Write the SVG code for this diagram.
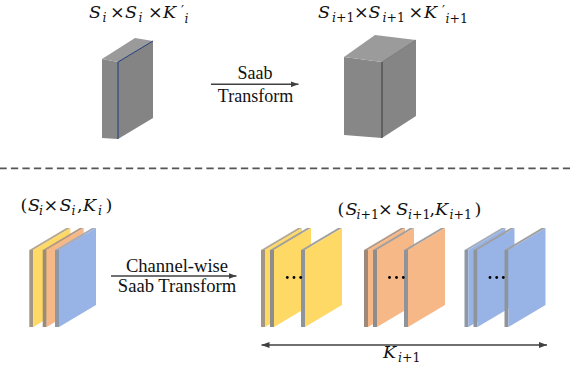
<svg xmlns="http://www.w3.org/2000/svg" width="570" height="368" viewBox="0 0 570 368">
<style>
.m{font-family:"DejaVu Serif","Liberation Serif",serif;font-size:17.5px;fill:#111}
.it{font-style:italic}
.sb{font-size:12.5px}
.pr{font-size:13.5px}
.t{font-family:"Liberation Serif","Times New Roman",serif;font-size:18px;fill:#111;text-anchor:middle}
.conn{stroke:#404040;stroke-width:1.5;fill:none}
.fy{fill:#FFD966}.fo{fill:#F7B887}.fb{fill:#98B3E5}
.sbr{fill:#A39684}.sor{fill:#9F8A7A}.sgr{fill:#8D8D8D}.sbl{fill:#8E97A5}.sgb{fill:#8F949B}
.tbr{fill:#B5A994}.tor{fill:#B39A88}.tgr{fill:#A0A0A0}.tbl{fill:#A3ADBB}
</style>
<defs>
<marker id="ah" markerWidth="8" markerHeight="6" refX="8" refY="3" orient="auto-start-reverse" markerUnits="userSpaceOnUse">
<path d="M0,0 L8,3 L0,6 z" fill="#404040"/>
</marker>
</defs>

<!-- top section -->
<g id="label-in-top">
<text class="m"><tspan class="it" x="89" y="17.5">S</tspan><tspan class="it sb" x="102.5" y="21.5">i</tspan><tspan x="110" y="17.5">×</tspan><tspan class="it" x="125" y="17.5">S</tspan><tspan class="it sb" x="138.5" y="21.5">i</tspan><tspan x="148" y="17.5">×</tspan><tspan class="it" x="163" y="17.5">K</tspan><tspan class="pr" x="181" y="15">′</tspan><tspan class="it sb" x="184.5" y="22.5">i</tspan></text>
</g>
<g id="label-out-top">
<text class="m"><tspan class="it" x="318" y="17.5">S</tspan><tspan class="sb" x="332" y="21.5"><tspan class="it">i</tspan>+1</tspan><tspan x="354" y="17.5">×</tspan><tspan class="it" x="368.5" y="17.5">S</tspan><tspan class="sb" x="382.5" y="21.5"><tspan class="it">i</tspan>+1</tspan><tspan x="408.5" y="17.5">×</tspan><tspan class="it" x="424" y="17.5">K</tspan><tspan class="pr" x="442" y="15">′</tspan><tspan class="sb" x="445.5" y="22.5"><tspan class="it">i</tspan>+1</tspan></text>
</g>

<g id="box-in">
<polygon points="102,59 118,62 118,139 102,138" fill="#878787"/>
<polygon points="118,62 153,41 153,118 118,139" fill="#848484"/>
<polygon points="102,59 135,38 153,41 118,62" fill="#9A9A9A"/>
<polyline points="118,139 118,62 153,41" fill="none" stroke="#1F3B7A" stroke-width="1"/>
</g>

<g id="box-out">
<polygon points="344,57 382,62 382,138 344,135" fill="#878787"/>
<polygon points="382,62 416,40 416,116 382,138" fill="#858585"/>
<polygon points="344,57 375,35 416,40 382,62" fill="#9B9B9B"/>
<line x1="382" y1="62" x2="382" y2="138" stroke="#3A3A3A" stroke-width="1"/>
<line x1="382" y1="62" x2="416" y2="40" stroke="#6E6E6E" stroke-width="0.8"/>
</g>

<g id="label-saab">
<text class="t" x="255" y="79">Saab</text>
<text class="t" x="255.5" y="102">Transform</text>
</g>

<line id="divider" x1="0" y1="168.3" x2="570" y2="168.3" stroke="#555555" stroke-width="1.8" stroke-dasharray="7.3 4.2" stroke-dashoffset="0.6"/>

<!-- bottom section -->
<g id="label-in-bottom">
<text class="m"><tspan x="20.5" y="211">(</tspan><tspan class="it" x="28" y="211">S</tspan><tspan class="it sb" x="39" y="215">i</tspan><tspan x="43.5" y="211">×</tspan><tspan class="it" x="59.5" y="211">S</tspan><tspan class="it sb" x="71.5" y="215">i</tspan><tspan x="77" y="211">,</tspan><tspan class="it" x="83" y="211">K</tspan><tspan class="it sb" x="98" y="215">i</tspan><tspan x="105.5" y="211">)</tspan></text>
</g>

<g id="stack-in">
<g transform="translate(29.3 0)"><polygon class="sbr" points="0,250 4,250 4,327 0,327"/><polygon class="tbr" points="0,250 4,250 41,228 37,228"/><polygon class="fy" points="4,250 41,228 41,305 4,327"/></g>
<g transform="translate(42.7 0)"><polygon class="sor" points="0,250 4,250 4,327 0,327"/><polygon class="tor" points="0,250 4,250 41,228 37,228"/><polygon class="fo" points="4,250 41,228 41,305 4,327"/></g>
<g transform="translate(55 0)"><polygon class="sbl" points="0,250 4,250 4,327 0,327"/><polygon class="tbl" points="0,250 4,250 41,228 37,228"/><polygon class="fb" points="4,250 41,228 41,305 4,327"/></g>
</g>

<g id="label-cw">
<text class="t" x="177" y="271.7" style="font-size:18.6px">Channel-wise</text>
<text class="t" x="177" y="291.7" style="font-size:18.6px">Saab Transform</text>
</g>

<g id="label-out-bottom">
<text class="m"><tspan x="337.5" y="215">(</tspan><tspan class="it" x="345.5" y="215">S</tspan><tspan class="sb" x="356.5" y="219"><tspan class="it">i</tspan>+1</tspan><tspan x="378" y="215">×</tspan><tspan class="it" x="396.2" y="215">S</tspan><tspan class="sb" x="408" y="219"><tspan class="it">i</tspan>+1</tspan><tspan x="429.5" y="215">,</tspan><tspan class="it" x="435" y="215">K</tspan><tspan class="sb" x="449.5" y="219"><tspan class="it">i</tspan>+1</tspan><tspan x="474.5" y="215">)</tspan></text>
</g>

<g id="group-yellow">
<g transform="translate(261 0)"><polygon class="sbr" points="0,250 4,250 4,327 0,327"/><polygon class="tbr" points="0,250 4,250 41,228 37,228"/><polygon class="fy" points="4,250 41,228 41,305 4,327"/></g>
<g transform="translate(270 0)"><polygon class="sgr" points="0,250 4,250 4,327 0,327"/><polygon class="tgr" points="0,250 4,250 41,228 37,228"/><polygon class="fy" points="4,250 41,228 41,305 4,327"/></g>
<g transform="translate(301 0)"><polygon class="sgb" points="0,250 4,250 4,327 0,327"/><polygon class="tgr" points="0,250 4,250 41,228 37,228"/><polygon class="fy" points="4,250 41,228 41,305 4,327"/></g>
<circle cx="287.3" cy="277.5" r="1.4"/><circle cx="294" cy="277.5" r="1.4"/><circle cx="300.7" cy="277.5" r="1.4"/>
</g>

<g id="group-orange">
<g transform="translate(364 0)"><polygon class="sor" points="0,250 4,250 4,327 0,327"/><polygon class="tor" points="0,250 4,250 41,228 37,228"/><polygon class="fo" points="4,250 41,228 41,305 4,327"/></g>
<g transform="translate(373 0)"><polygon class="sgr" points="0,250 4,250 4,327 0,327"/><polygon class="tgr" points="0,250 4,250 41,228 37,228"/><polygon class="fo" points="4,250 41,228 41,305 4,327"/></g>
<g transform="translate(404 0)"><polygon class="sgb" points="0,250 4,250 4,327 0,327"/><polygon class="tgr" points="0,250 4,250 41,228 37,228"/><polygon class="fo" points="4,250 41,228 41,305 4,327"/></g>
<circle cx="389.5" cy="277.5" r="1.4"/><circle cx="396.5" cy="277.5" r="1.4"/><circle cx="403.3" cy="277.5" r="1.4"/>
</g>

<g id="group-blue">
<g transform="translate(464.5 0)"><polygon class="sbl" points="0,250 4,250 4,327 0,327"/><polygon class="tbl" points="0,250 4,250 41,228 37,228"/><polygon class="fb" points="4,250 41,228 41,305 4,327"/></g>
<g transform="translate(473.5 0)"><polygon class="sgb" points="0,250 4,250 4,327 0,327"/><polygon class="tgr" points="0,250 4,250 41,228 37,228"/><polygon class="fb" points="4,250 41,228 41,305 4,327"/></g>
<g transform="translate(504.5 0)"><polygon class="sgb" points="0,250 4,250 4,327 0,327"/><polygon class="tgr" points="0,250 4,250 41,228 37,228"/><polygon class="fb" points="4,250 41,228 41,305 4,327"/></g>
<circle cx="490" cy="277.5" r="1.4"/><circle cx="496.7" cy="277.5" r="1.4"/><circle cx="503.3" cy="277.5" r="1.4"/>
</g>

<g id="label-k">
<text class="m"><tspan class="it" x="383" y="358">K</tspan><tspan class="sb" x="398" y="362"><tspan class="it">i</tspan>+1</tspan></text>
</g>

<g id="connectors">
<line class="conn" x1="211" y1="84.3" x2="298.5" y2="84.3" marker-end="url(#ah)"/>
<line class="conn" x1="111" y1="276" x2="236.5" y2="276" marker-end="url(#ah)"/>
<line class="conn" x1="261.5" y1="345" x2="547" y2="345" marker-start="url(#ah)" marker-end="url(#ah)"/>
</g>
</svg>
